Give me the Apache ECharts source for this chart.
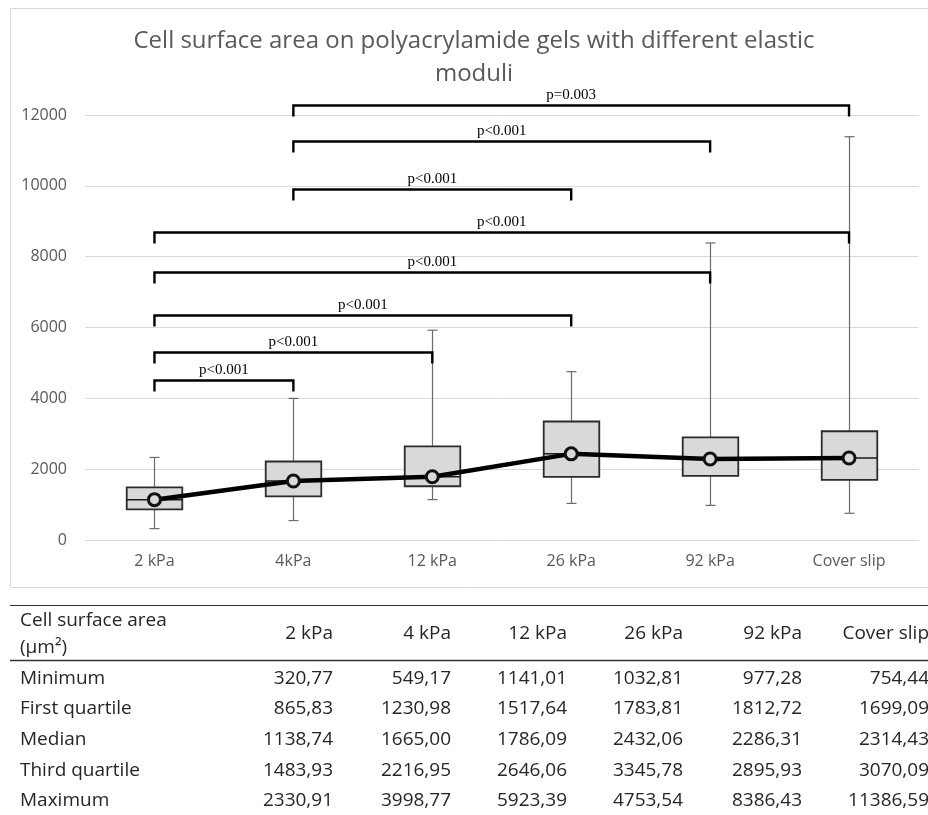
<!DOCTYPE html>
<html>
<head>
<meta charset="utf-8">
<script src="https://cdn.jsdelivr.net/npm/echarts@6/dist/echarts.min.js"></script>
<style>
html,body{margin:0;padding:0;background:#fff;}
#main{width:928px;height:815px;}
</style>
</head>
<body>
<div id="main"></div>
<script>
// ---- data ----
const categories = ['2 kPa', '4kPa', '12 kPa', '26 kPa', '92 kPa', 'Cover slip'];
const tableHeaders = ['2 kPa', '4 kPa', '12 kPa', '26 kPa', '92 kPa', 'Cover slip'];
const minimum = [320.77, 549.17, 1141.01, 1032.81, 977.28, 754.44];
const firstQuartile = [865.83, 1230.98, 1517.64, 1783.81, 1812.72, 1699.09];
const median = [1138.74, 1665.00, 1786.09, 2432.06, 2286.31, 2314.43];
const thirdQuartile = [1483.93, 2216.95, 2646.06, 3345.78, 2895.93, 3070.09];
const maximum = [2330.91, 3998.77, 5923.39, 4753.54, 8386.43, 11386.59];
const yTicks = [0, 2000, 4000, 6000, 8000, 10000, 12000];
const rowNames = ['Minimum', 'First quartile', 'Median', 'Third quartile', 'Maximum'];
const bracketFrom = [1, 1, 1, 0, 0, 0, 0, 0];
const bracketTo = [5, 4, 3, 5, 4, 3, 2, 1];
const bracketLevel = [12280, 11270, 9920, 8700, 7580, 6350, 5320, 4520];
const bracketLabel = ['p=0.003', 'p<0.001', 'p<0.001', 'p<0.001', 'p<0.001', 'p<0.001', 'p<0.001', 'p<0.001'];
const titleText = 'Cell surface area on polyacrylamide gels with different elastic\nmoduli';
const tableTitle = 'Cell surface area\n(\u00b5m\u00b2)';

// ---- build ----
const boxData = categories.map((c, i) => [i, minimum[i], firstQuartile[i], median[i], thirdQuartile[i], maximum[i]]);
const bracketData = bracketFrom.map((f, i) => [f, bracketTo[i], bracketLevel[i], bracketLabel[i]]);
const rows = [minimum, firstQuartile, median, thirdQuartile, maximum];
const fmt = v => v.toFixed(2).replace('.', ',');

const chart = echarts.init(document.getElementById('main'));

const grey = '#595959';
const tableFont = '"Open Sans", sans-serif';
const tfs = 19;
const colRight = [333, 451, 567, 683, 802, 929];
const rowY = [679, 709, 740, 771, 801];

const graphics = [
  {type: 'rect', shape: {x: 10.5, y: 8.5, width: 940, height: 579}, style: {fill: null, stroke: '#d9d9d9', lineWidth: 1}, silent: true, z: -1},
  {type: 'text', x: 474, y: 25, style: {text: titleText, align: 'center', verticalAlign: 'top', fontSize: 24, lineHeight: 33, fill: grey, fontFamily: tableFont}},
  {type: 'line', shape: {x1: 10, y1: 605.5, x2: 928, y2: 605.5}, style: {stroke: '#333', lineWidth: 1}},
  {type: 'line', shape: {x1: 10, y1: 660.5, x2: 928, y2: 660.5}, style: {stroke: '#333', lineWidth: 1.5}},
  {type: 'text', x: 20, y: 634, style: {text: tableTitle, align: 'left', verticalAlign: 'middle', fontSize: tfs, lineHeight: 27, fill: '#262626', fontFamily: tableFont}}
];
tableHeaders.forEach((h, j) => {
  graphics.push({type: 'text', x: colRight[j], y: 634, style: {text: h, align: 'right', verticalAlign: 'middle', fontSize: tfs, fill: '#262626', fontFamily: tableFont}});
});
rowNames.forEach((r, i) => {
  graphics.push({type: 'text', x: 20, y: rowY[i], style: {text: r, align: 'left', verticalAlign: 'middle', fontSize: tfs, fill: '#262626', fontFamily: tableFont}});
  rows[i].forEach((v, j) => {
    graphics.push({type: 'text', x: colRight[j], y: rowY[i], style: {text: fmt(v), align: 'right', verticalAlign: 'middle', fontSize: tfs, fill: '#262626', fontFamily: tableFont}});
  });
});

const option = {
  animation: false,
  grid: {left: 85, right: 9.5, top: 115, bottom: 275, containLabel: false},
  xAxis: {
    type: 'category', data: categories,
    axisLine: {show: false}, axisTick: {show: false},
    axisLabel: {color: grey, fontSize: 16, margin: 13, fontFamily: tableFont}
  },
  yAxis: {
    type: 'value', min: yTicks[0], max: yTicks[yTicks.length - 1], interval: 2000,
    axisLine: {show: false}, axisTick: {show: false},
    axisLabel: {color: grey, fontSize: 16, margin: 18, fontFamily: tableFont, formatter: v => String(v)},
    splitLine: {lineStyle: {color: '#d9d9d9', width: 1}}
  },
  graphic: graphics,
  series: [
    {
      type: 'custom', name: 'box', clip: false, z: 2,
      data: boxData,
      encode: {x: 0, y: [1, 2, 3, 4, 5]},
      renderItem: function (params, api) {
        const idx = api.value(0);
        const pMin = api.coord([idx, api.value(1)]);
        const pQ1 = api.coord([idx, api.value(2)]);
        const pMed = api.coord([idx, api.value(3)]);
        const pQ3 = api.coord([idx, api.value(4)]);
        const pMax = api.coord([idx, api.value(5)]);
        const bw = api.size([1, 0])[0] * 0.4;
        const cap = 5;
        const x = Math.round(pMed[0]) + 0.5;
        const wStyle = {stroke: '#6b6b6b', lineWidth: 1.2};
        return {
          type: 'group',
          children: [
            {type: 'line', shape: {x1: x, y1: pMax[1], x2: x, y2: pQ3[1]}, style: wStyle},
            {type: 'line', shape: {x1: x - cap, y1: pMax[1], x2: x + cap, y2: pMax[1]}, style: wStyle},
            {type: 'line', shape: {x1: x, y1: pMin[1], x2: x, y2: pQ1[1]}, style: wStyle},
            {type: 'line', shape: {x1: x - cap, y1: pMin[1], x2: x + cap, y2: pMin[1]}, style: wStyle},
            {type: 'rect', shape: {x: x - bw / 2, y: pQ3[1], width: bw, height: pQ1[1] - pQ3[1]},
              style: {fill: '#d9d9d9', stroke: '#2b2b2b', lineWidth: 1.8}},
            {type: 'line', shape: {x1: x - bw / 2, y1: pMed[1], x2: x + bw / 2, y2: pMed[1]},
              style: {stroke: '#1a1a1a', lineWidth: 1.5}}
          ]
        };
      }
    },
    {
      type: 'line', name: 'median', data: median, z: 5,
      symbol: 'circle', symbolSize: 12,
      lineStyle: {color: '#000', width: 4.5},
      itemStyle: {color: '#d9d9d9', borderColor: '#111', borderWidth: 3}
    },
    {
      type: 'custom', name: 'brackets', clip: false, z: 6,
      data: bracketData,
      encode: {x: [0, 1]},
      renderItem: function (params, api) {
        const a = api.coord([api.value(0), api.value(2)]);
        const b = api.coord([api.value(1), api.value(2)]);
        const y = Math.round(a[1]) + 0.5;
        const tick = 11;
        return {
          type: 'group',
          children: [
            {type: 'polyline', shape: {points: [[a[0], y + tick], [a[0], y], [b[0], y], [b[0], y + tick]]},
              style: {stroke: '#000', lineWidth: 2.4, fill: null}},
            {type: 'text', x: (a[0] + b[0]) / 2, y: y - 3,
              style: {text: api.value(3), align: 'center', verticalAlign: 'bottom', fontSize: 15,
                fontFamily: '"Liberation Serif", "Times New Roman", serif', fill: '#000'}}
          ]
        };
      }
    }
  ]
};
chart.setOption(option);
</script>
</body>
</html>
